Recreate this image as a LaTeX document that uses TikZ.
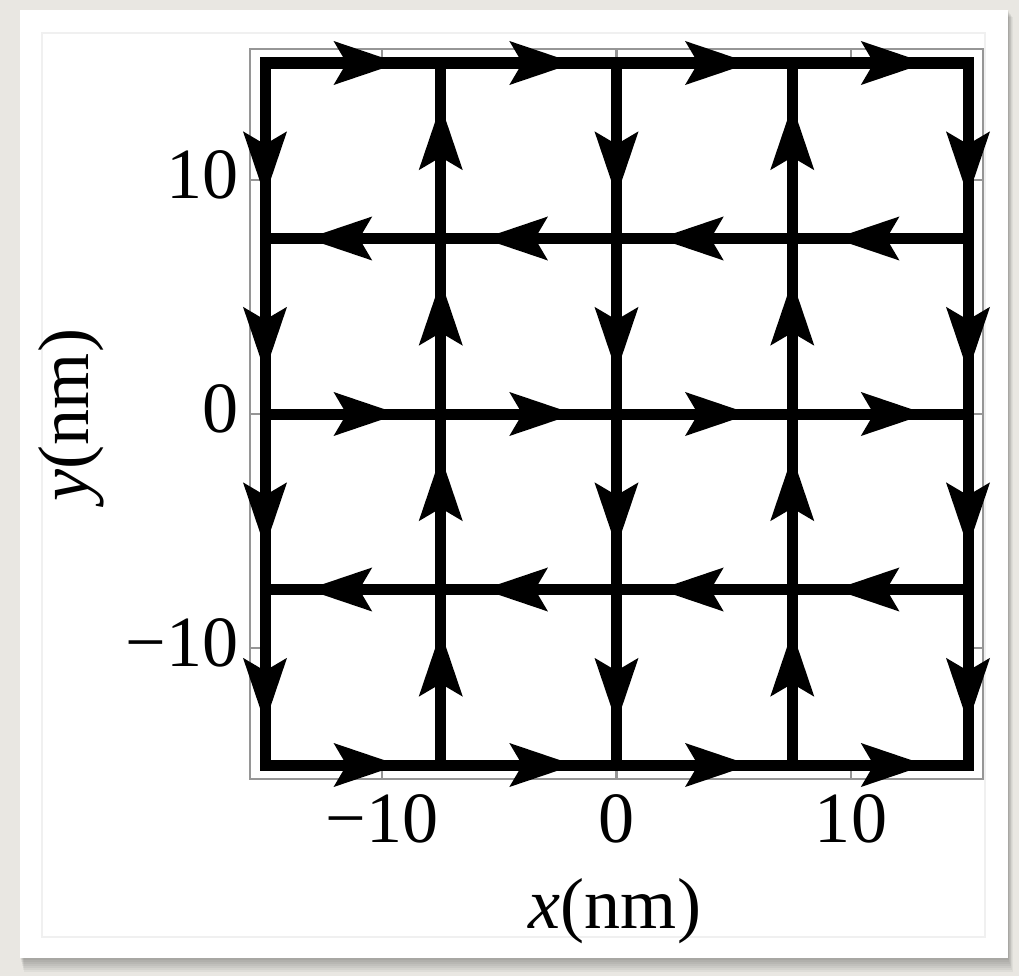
\documentclass[tikz,border=0pt]{standalone}
\usepackage{fontspec}
\setmainfont{Liberation Serif}
\usetikzlibrary{arrows.meta,decorations.markings}

\definecolor{deskgray}{RGB}{233,231,226}
\definecolor{framegray}{RGB}{150,150,150}

\tikzset{
  fieldline/.style={line width=0.11cm, line cap=rect, postaction={decorate},
    decoration={markings, mark=at position 0.76 with
      {\arrow{Stealth[length=6.5mm, width=4.4mm, inset=1.3mm, line width=0pt]}}}},
  framebox/.style={draw=framegray, line width=0.6pt},
  tickmark/.style={draw=framegray, line width=0.6pt},
  ticklabel/.style={font=\fontsize{20.5}{24}\selectfont, inner sep=0pt},
}

\begin{document}
\begin{tikzpicture}[x=0.01cm, y=-0.01cm]
% --- paper card with shadow ---
\fill[deskgray] (0,0) rectangle (1019,976);
\useasboundingbox (0,0) rectangle (1019,976);
\foreach \d in {2,4,...,14}
  \fill[black, opacity=0.045] (20+\d/4,10+\d/2) rectangle (1008+\d/3,958+\d);
\fill[white] (20,10) rectangle (1008,958);
\draw[gray!12, line width=0.5pt] (42,33) rectangle (985,937);

% --- plot frame and ticks ---
\draw[framebox] (250,49) rectangle (983,779);
\foreach \xt in {382,616.5,851}{
  \draw[tickmark] (\xt,779) -- (\xt,767);
  \draw[tickmark] (\xt,49) -- (\xt,61);
}
\foreach \yt in {180,414,648}{
  \draw[tickmark] (250,\yt) -- (262,\yt);
  \draw[tickmark] (983,\yt) -- (971,\yt);
}

% --- tick labels ---
\node[ticklabel, anchor=base] (xl1) at (382,842) {−10};
\node[ticklabel, anchor=base] (xl2) at (616.5,842) {0};
\node[ticklabel, anchor=base] (xl3) at (851,842) {10};
\node[ticklabel, anchor=base east] (yl1) at (239,198) {10};
\node[ticklabel, anchor=base east] (yl2) at (239,432) {0};
\node[ticklabel, anchor=base east] (yl3) at (239,666) {−10};

% --- axis labels ---
\node[ticklabel, anchor=base] (xlab) at (615,928) {\textit{x}(nm)};
\node[ticklabel, anchor=base, rotate=90] (ylab) at (88,415) {\textit{y}(nm)};

% --- grid points ---
\foreach \i in {0,...,4}
  \foreach \j in {0,...,4}
    \coordinate (g-\i-\j) at ({265+175.75*\i},{63+175.5*\j});

% horizontal lines: rows 0,2,4 to the right, rows 1,3 to the left
\foreach \j in {0,2,4}
  \foreach \i/\k in {0/1,1/2,2/3,3/4}
    \draw[fieldline] (g-\i-\j) -- (g-\k-\j);
\foreach \j in {1,3}
  \foreach \i/\k in {0/1,1/2,2/3,3/4}
    \draw[fieldline] (g-\k-\j) -- (g-\i-\j);

% vertical lines: columns 0,2,4 downwards, columns 1,3 upwards
\foreach \i in {0,2,4}
  \foreach \j/\k in {0/1,1/2,2/3,3/4}
    \draw[fieldline] (g-\i-\j) -- (g-\i-\k);
\foreach \i in {1,3}
  \foreach \j/\k in {0/1,1/2,2/3,3/4}
    \draw[fieldline] (g-\i-\k) -- (g-\i-\j);
\end{tikzpicture}
\end{document}
